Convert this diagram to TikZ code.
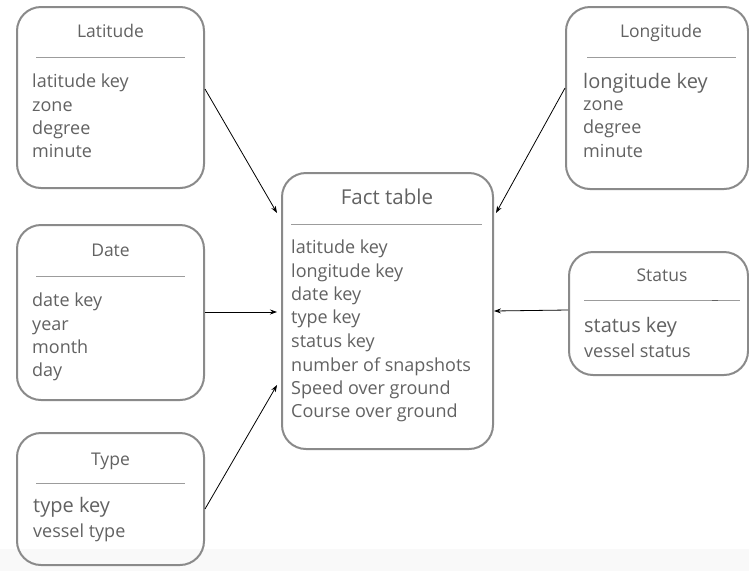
\documentclass[tikz,border=0pt]{standalone}
\usepackage{fontspec}
\setmainfont{Open Sans}
\usetikzlibrary{arrows.meta,calc}
\definecolor{boxline}{HTML}{8A8A8A}
\definecolor{txt}{HTML}{626262}
\definecolor{rulecol}{HTML}{9C9C9C}
\definecolor{floor}{HTML}{F9F9F9}
\tikzset{
  tablebox/.style={draw=boxline, line width=2pt, rounded corners=24pt, inner sep=0pt},
  tabletitle/.style={anchor=base, inner sep=0pt, text=txt, font=\fontsize{17.5}{20}\selectfont},
  bigtitle/.style={tabletitle, font=\fontsize{20.5}{23}\selectfont},
  item/.style={anchor=base west, inner sep=0pt, text=txt, font=\fontsize{18}{20}\selectfont},
  bigitem/.style={item, font=\fontsize{20}{22}\selectfont},
  seprule/.style={draw=rulecol, line width=1pt},
  link/.style={draw=black, line width=0.8pt, -{Stealth[length=7pt,width=5pt]}},
}
\begin{document}
\begin{tikzpicture}[x=1pt,y=-1pt]
  % canvas
  \useasboundingbox (0,0) rectangle (749,571);
  \fill[white] (0,0) rectangle (749,571);
  \fill[floor] (0,549) rectangle (749,571);

  % table frames
  \node[tablebox, minimum width=187pt, minimum height=181pt] (lat)    at (110.5, 97.5) {};
  \node[tablebox, minimum width=182pt, minimum height=182pt] (lon)    at (657, 98) {};
  \node[tablebox, minimum width=211pt, minimum height=276pt] (fact)   at (387.5, 311) {};
  \node[tablebox, minimum width=187pt, minimum height=175pt] (date)   at (110.5, 312.5) {};
  \node[tablebox, minimum width=179pt, minimum height=123pt] (status) at (658.5, 313.5) {};
  \node[tablebox, minimum width=187pt, minimum height=132pt] (type)   at (110.5, 499) {};

  % Latitude
  \node[tabletitle] (lat-t) at (110.5, 37) {Latitude};
  \draw[seprule] (36,57) -- (185,57);
  \foreach \i/\t/\y in {1/latitude key/87, 2/zone/111, 3/degree/134, 4/minute/157}
    \node[item] (lat-\i) at (32,\y) {\t};

  % Longitude
  \node[tabletitle] (lon-t) at (661, 37) {Longitude};
  \draw[seprule] (587,57) -- (736,57);
  \node[bigitem] (lon-1) at (583,88) {longitude key};
  \foreach \i/\t/\y in {2/zone/110, 3/degree/133, 4/minute/157}
    \node[item] (lon-\i) at (583,\y) {\t};

  % Fact table
  \node[bigtitle] (fact-t) at (387, 204) {Fact table};
  \draw[seprule] (291,224) -- (482,224);
  \foreach \i/\t/\y in {1/latitude key/253, 2/longitude key/277, 3/date key/300,
      4/type key/323, 5/status key/347, 6/number of snapshots/371,
      7/Speed over ground/394, 8/Course over ground/417}
    \node[item] (fact-\i) at (291,\y) {\t};

  % Date
  \node[tabletitle] (date-t) at (110.5, 256) {Date};
  \draw[seprule] (36,276) -- (185,276);
  \foreach \i/\t/\y in {1/date key/306, 2/year/330, 3/month/353, 4/day/376}
    \node[item] (date-\i) at (32,\y) {\t};

  % Status
  \node[tabletitle] (status-t) at (662, 281) {Status};
  \draw[seprule] (584,300) -- (740,300);
  \draw[draw=txt, line width=1pt] (712,300) -- (718,300);
  \node[bigitem] (status-1) at (584,332) {status key};
  \node[item] (status-2) at (584,357) {vessel status};

  % Type
  \node[tabletitle] (type-t) at (110.5, 465) {Type};
  \draw[seprule] (36,483) -- (185,483);
  \node[bigitem] (type-1) at (33,512) {type key};
  \node[item] (type-2) at (33,537) {vessel type};

  % links to the fact table
  \draw[link] ($(lat.east)+(0,-8.5)$)    -- ($(fact.west)+(-4,-98)$);
  \draw[link] ($(lon.west)+(0,-10)$)     -- ($(fact.east)+(2,-98)$);
  \draw[link] ($(date.east)+(0,-0.5)$)   -- ($(fact.west)+(-4,1)$);
  \draw[link] ($(status.west)+(0,-3.5)$) -- ($(fact.east)+(0,0)$);
  \draw[link] ($(type.east)+(0,10)$)     -- ($(fact.west)+(-4,74)$);
\end{tikzpicture}
\end{document}
